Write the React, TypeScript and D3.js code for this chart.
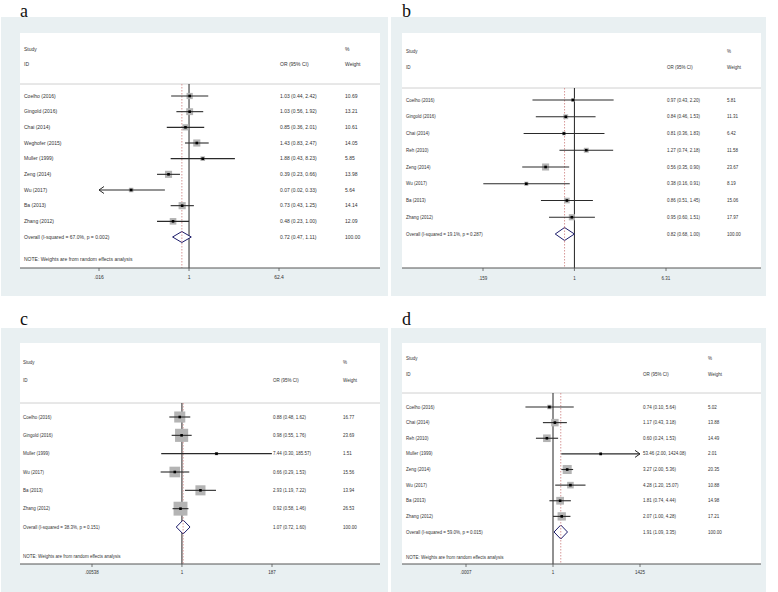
import React from "react";
import * as d3 from "d3";

// ---------- Panel a ----------
const aStudies = ["Coelho (2016)", "Gingold (2016)", "Chai (2014)", "Weghofer  (2015)", "Muller (1999)", "Zeng (2014)", "Wu (2017)", "Ba (2013)", "Zhang (2012)"];
const aOR = [1.03, 1.03, 0.85, 1.43, 1.88, 0.39, 0.07, 0.73, 0.48];
const aLow = [0.44, 0.56, 0.36, 0.83, 0.43, 0.23, 0.02, 0.43, 0.23];
const aHigh = [2.42, 1.92, 2.01, 2.47, 8.23, 0.66, 0.33, 1.25, 1.0];
const aWeight = [10.69, 13.21, 10.61, 14.05, 5.85, 13.98, 5.64, 14.14, 12.09];
const aClipped = ["", "", "", "", "", "", "low", "", ""];
const aOverall = [0.72, 0.47, 1.11];
const aOverallLabel = "Overall  (I-squared = 67.0%, p = 0.002)";
const aTicks = [0.016, 1, 62.4];
const aTickLabels = [".016", "1", "62.4"];

// ---------- Panel b ----------
const bStudies = ["Coelho (2016)", "Gingold (2016)", "Chai (2014)", "Reh (2010)", "Zeng (2014)", "Wu (2017)", "Ba (2013)", "Zhang (2012)"];
const bOR = [0.97, 0.84, 0.81, 1.27, 0.56, 0.38, 0.86, 0.95];
const bLow = [0.43, 0.46, 0.36, 0.74, 0.35, 0.16, 0.51, 0.6];
const bHigh = [2.2, 1.53, 1.83, 2.18, 0.9, 0.91, 1.45, 1.51];
const bWeight = [5.81, 11.31, 6.42, 11.58, 23.67, 8.19, 15.06, 17.97];
const bClipped = ["", "", "", "", "", "", "", ""];
const bOverall = [0.82, 0.68, 1.0];
const bOverallLabel = "Overall  (I-squared = 19.1%, p = 0.287)";
const bTicks = [0.159, 1, 6.31];
const bTickLabels = [".159", "1", "6.31"];

// ---------- Panel c ----------
const cStudies = ["Coelho (2016)", "Gingold (2016)", "Muller (1999)", "Wu (2017)", "Ba (2013)", "Zhang (2012)"];
const cOR = [0.88, 0.98, 7.44, 0.66, 2.93, 0.92];
const cLow = [0.48, 0.55, 0.3, 0.29, 1.19, 0.58];
const cHigh = [1.62, 1.76, 185.57, 1.53, 7.22, 1.46];
const cWeight = [16.77, 23.69, 1.51, 15.56, 13.94, 26.53];
const cClipped = ["", "", "", "", "", ""];
const cOverall = [1.07, 0.72, 1.6];
const cOverallLabel = "Overall  (I-squared = 38.3%, p = 0.151)";
const cTicks = [0.00538, 1, 187];
const cTickLabels = [".00538", "1", "187"];

// ---------- Panel d ----------
const dStudies = ["Coelho (2016)", "Chai (2014)", "Reh (2010)", "Muller (1999)", "Zeng (2014)", "Wu (2017)", "Ba (2013)", "Zhang (2012)"];
const dOR = [0.74, 1.17, 0.6, 53.46, 3.27, 4.28, 1.81, 2.07];
const dLow = [0.1, 0.43, 0.24, 2.0, 2.0, 1.2, 0.74, 1.0];
const dHigh = [5.64, 3.18, 1.53, 1424.08, 5.36, 15.07, 4.44, 4.28];
const dWeight = [5.02, 13.88, 14.49, 2.01, 20.35, 10.88, 14.98, 17.21];
const dClipped = ["", "", "", "high", "", "", "", ""];
const dOverall = [1.91, 1.09, 3.35];
const dOverallLabel = "Overall  (I-squared = 59.0%, p = 0.015)";
const dTicks = [0.0007, 1, 1425];
const dTickLabels = [".0007", "1", "1425"];

const NOTE = "NOTE: Weights are from random effects analysis";

const SANS = "'Liberation Sans', Arial, sans-serif";
const SERIF = "'Liberation Serif', 'Times New Roman', serif";
const TXT = "#333";
const DASH = "#d28c8c";

interface PanelCfg {
  letter: string;
  letterX: number;
  letterY: number;
  bg: [number, number, number, number];
  white: [number, number, number, number];
  studies: string[];
  or: number[];
  low: number[];
  high: number[];
  weight: number[];
  clipped: string[];
  overall: number[];
  overallLabel: string;
  ticks: number[];
  tickLabels: string[];
  xRange: [number, number];
  studyY: number;
  idY: number;
  sepY: number;
  firstRowY: number;
  overallY: number;
  noteY: number | null;
  textX: number;
  orX: number;
  wX: number;
  fs: number;
  boxK: number;
  diaH: number;
  tickLabelY: number;
}

function Panel({ p }: { p: PanelCfg }) {
  const x = d3.scaleLog().domain([p.ticks[0], p.ticks[2]]).range(p.xRange);
  const n = p.studies.length;
  const y = d3.scaleLinear().domain([0, n]).range([p.firstRowY, p.overallY]);
  const axisY = p.white[1] + p.white[3];
  const wl = p.white[0];
  const wr = p.white[0] + p.white[2];
  const minV = p.ticks[0];
  const maxV = p.ticks[2];
  const fmt = (v: number) => v.toFixed(2);
  const arrowLen = 5;
  const arrowW = 3.5;

  return (
    <g>
      <rect x={p.bg[0]} y={p.bg[1]} width={p.bg[2]} height={p.bg[3]} fill="#e9f0f2" />
      <rect x={p.white[0]} y={p.white[1]} width={p.white[2]} height={p.white[3]} fill="#ffffff" />
      <text x={p.letterX} y={p.letterY} fontFamily={SERIF} fontSize={18} fill="#111">
        {p.letter}
      </text>
      <g fontFamily={SANS} fontSize={p.fs} fill={TXT}>
        <text x={p.textX} y={p.studyY} dy="0.35em">Study</text>
        <text x={p.textX} y={p.idY} dy="0.35em">ID</text>
        <text x={p.orX} y={p.idY} dy="0.35em">OR (95% CI)</text>
        <text x={p.wX} y={p.studyY} dy="0.35em">%</text>
        <text x={p.wX} y={p.idY} dy="0.35em">Weight</text>
      </g>
      <line x1={wl} x2={wr} y1={p.sepY} y2={p.sepY} stroke="#c4c4c4" strokeWidth={0.8} />
      <line x1={x(1)} x2={x(1)} y1={p.sepY} y2={axisY} stroke="#222" strokeWidth={1} />
      <line
        x1={x(p.overall[0])}
        x2={x(p.overall[0])}
        y1={p.sepY}
        y2={axisY}
        stroke={DASH}
        strokeWidth={0.9}
        strokeDasharray="1.5,1.5"
      />
      {p.studies.map((s, i) => {
        const yy = y(i);
        const side = p.boxK * Math.sqrt(p.weight[i]);
        const loArrow = p.clipped[i] === "low";
        const hiArrow = p.clipped[i] === "high";
        const x1 = loArrow ? x(minV) : x(p.low[i]);
        const x2 = hiArrow ? x(maxV) : x(p.high[i]);
        const cx = x(p.or[i]);
        return (
          <g key={s}>
            <rect x={cx - side / 2} y={yy - side / 2} width={side} height={side} fill="#b4b4b4" />
            <line x1={x1} x2={x2} y1={yy} y2={yy} stroke="#2a2a2a" strokeWidth={1.1} />
            {loArrow && (
              <path
                d={`M${x1 + arrowLen},${yy - arrowW} L${x1},${yy} L${x1 + arrowLen},${yy + arrowW}`}
                fill="none"
                stroke="#2a2a2a"
                strokeWidth={1}
              />
            )}
            {hiArrow && (
              <path
                d={`M${x2 - arrowLen},${yy - arrowW} L${x2},${yy} L${x2 - arrowLen},${yy + arrowW}`}
                fill="none"
                stroke="#2a2a2a"
                strokeWidth={1}
              />
            )}
            <rect x={cx - 1.3} y={yy - 1.3} width={2.6} height={2.6} fill="#000" />
            <text x={p.textX} y={yy} dy="0.35em" fontFamily={SANS} fontSize={p.fs} fill={TXT}>
              {s}
            </text>
            <text x={p.orX} y={yy} dy="0.35em" fontFamily={SANS} fontSize={p.fs} fill={TXT}>
              {`${fmt(p.or[i])} (${fmt(p.low[i])}, ${fmt(p.high[i])})`}
            </text>
            <text x={p.wX} y={yy} dy="0.35em" fontFamily={SANS} fontSize={p.fs} fill={TXT}>
              {fmt(p.weight[i])}
            </text>
          </g>
        );
      })}
      {(() => {
        const yy = y(n);
        const [m, lo, hi] = p.overall;
        const d = `M${x(lo)},${yy} L${x(m)},${yy - p.diaH} L${x(hi)},${yy} L${x(m)},${yy + p.diaH} Z`;
        return (
          <g>
            <path d={d} fill="#fff" stroke="#1c1c6b" strokeWidth={1} />
            <line
              x1={x(m)}
              x2={x(m)}
              y1={yy - p.diaH}
              y2={yy + p.diaH}
              stroke={DASH}
              strokeWidth={0.9}
              strokeDasharray="1.5,1.5"
            />
            <text x={p.textX} y={yy} dy="0.35em" fontFamily={SANS} fontSize={p.fs} fill={TXT}>
              {p.overallLabel}
            </text>
            <text x={p.orX} y={yy} dy="0.35em" fontFamily={SANS} fontSize={p.fs} fill={TXT}>
              {`${fmt(m)} (${fmt(lo)}, ${fmt(hi)})`}
            </text>
            <text x={p.wX} y={yy} dy="0.35em" fontFamily={SANS} fontSize={p.fs} fill={TXT}>
              100.00
            </text>
          </g>
        );
      })()}
      {p.noteY !== null && (
        <text x={p.textX} y={p.noteY} dy="0.35em" fontFamily={SANS} fontSize={p.fs} fill={TXT}>
          {NOTE}
        </text>
      )}
      <line x1={wl} x2={wr} y1={axisY} y2={axisY} stroke="#555" strokeWidth={1} />
      {p.ticks.map((t, i) => (
        <g key={i}>
          <line x1={x(t)} x2={x(t)} y1={axisY} y2={axisY + 3} stroke="#555" strokeWidth={0.8} />
          <text
            x={x(t)}
            y={p.tickLabelY}
            dy="0.35em"
            textAnchor="middle"
            fontFamily={SANS}
            fontSize={p.fs}
            fill={TXT}
          >
            {p.tickLabels[i]}
          </text>
        </g>
      ))}
    </g>
  );
}

const panels: PanelCfg[] = [
  {
    letter: "a", letterX: 20, letterY: 17,
    bg: [1, 17, 387, 279], white: [20, 33, 360, 235],
    studies: aStudies, or: aOR, low: aLow, high: aHigh, weight: aWeight, clipped: aClipped,
    overall: aOverall, overallLabel: aOverallLabel, ticks: aTicks, tickLabels: aTickLabels,
    xRange: [99, 279], studyY: 49, idY: 64, sepY: 84, firstRowY: 96, overallY: 237, noteY: 259,
    textX: 24, orX: 280, wX: 345, fs: 5, boxK: 1.9, diaH: 5.5, tickLabelY: 277,
  },
  {
    letter: "b", letterX: 402, letterY: 17,
    bg: [391, 17, 375, 279], white: [402, 33, 359, 235],
    studies: bStudies, or: bOR, low: bLow, high: bHigh, weight: bWeight, clipped: bClipped,
    overall: bOverall, overallLabel: bOverallLabel, ticks: bTicks, tickLabels: bTickLabels,
    xRange: [483, 666], studyY: 51, idY: 67, sepY: 88, firstRowY: 100, overallY: 234, noteY: null,
    textX: 406, orX: 667, wX: 727, fs: 4.5, boxK: 1.45, diaH: 6.5, tickLabelY: 278,
  },
  {
    letter: "c", letterX: 20, letterY: 325,
    bg: [1, 328, 387, 264], white: [20, 343, 360, 221],
    studies: cStudies, or: cOR, low: cLow, high: cHigh, weight: cWeight, clipped: cClipped,
    overall: cOverall, overallLabel: cOverallLabel, ticks: cTicks, tickLabels: cTickLabels,
    xRange: [92, 272], studyY: 362, idY: 380, sepY: 403, firstRowY: 417, overallY: 527, noteY: 556,
    textX: 23, orX: 273, wX: 343, fs: 4.5, boxK: 2.7, diaH: 7, tickLabelY: 572,
  },
  {
    letter: "d", letterX: 402, letterY: 325,
    bg: [391, 328, 375, 264], white: [402, 343, 359, 221],
    studies: dStudies, or: dOR, low: dLow, high: dHigh, weight: dWeight, clipped: dClipped,
    overall: dOverall, overallLabel: dOverallLabel, ticks: dTicks, tickLabels: dTickLabels,
    xRange: [466, 640], studyY: 358, idY: 374, sepY: 393, firstRowY: 407, overallY: 532, noteY: 557,
    textX: 406, orX: 643, wX: 708, fs: 4.5, boxK: 2.0, diaH: 7, tickLabelY: 572,
  },
];

export default function App() {
  return (
    <svg
      width={778}
      height={592}
      style={{ position: "absolute", left: 0, top: 0, background: "#fff" }}
    >
      {panels.map((p) => (
        <Panel key={p.letter} p={p} />
      ))}
    </svg>
  );
}
